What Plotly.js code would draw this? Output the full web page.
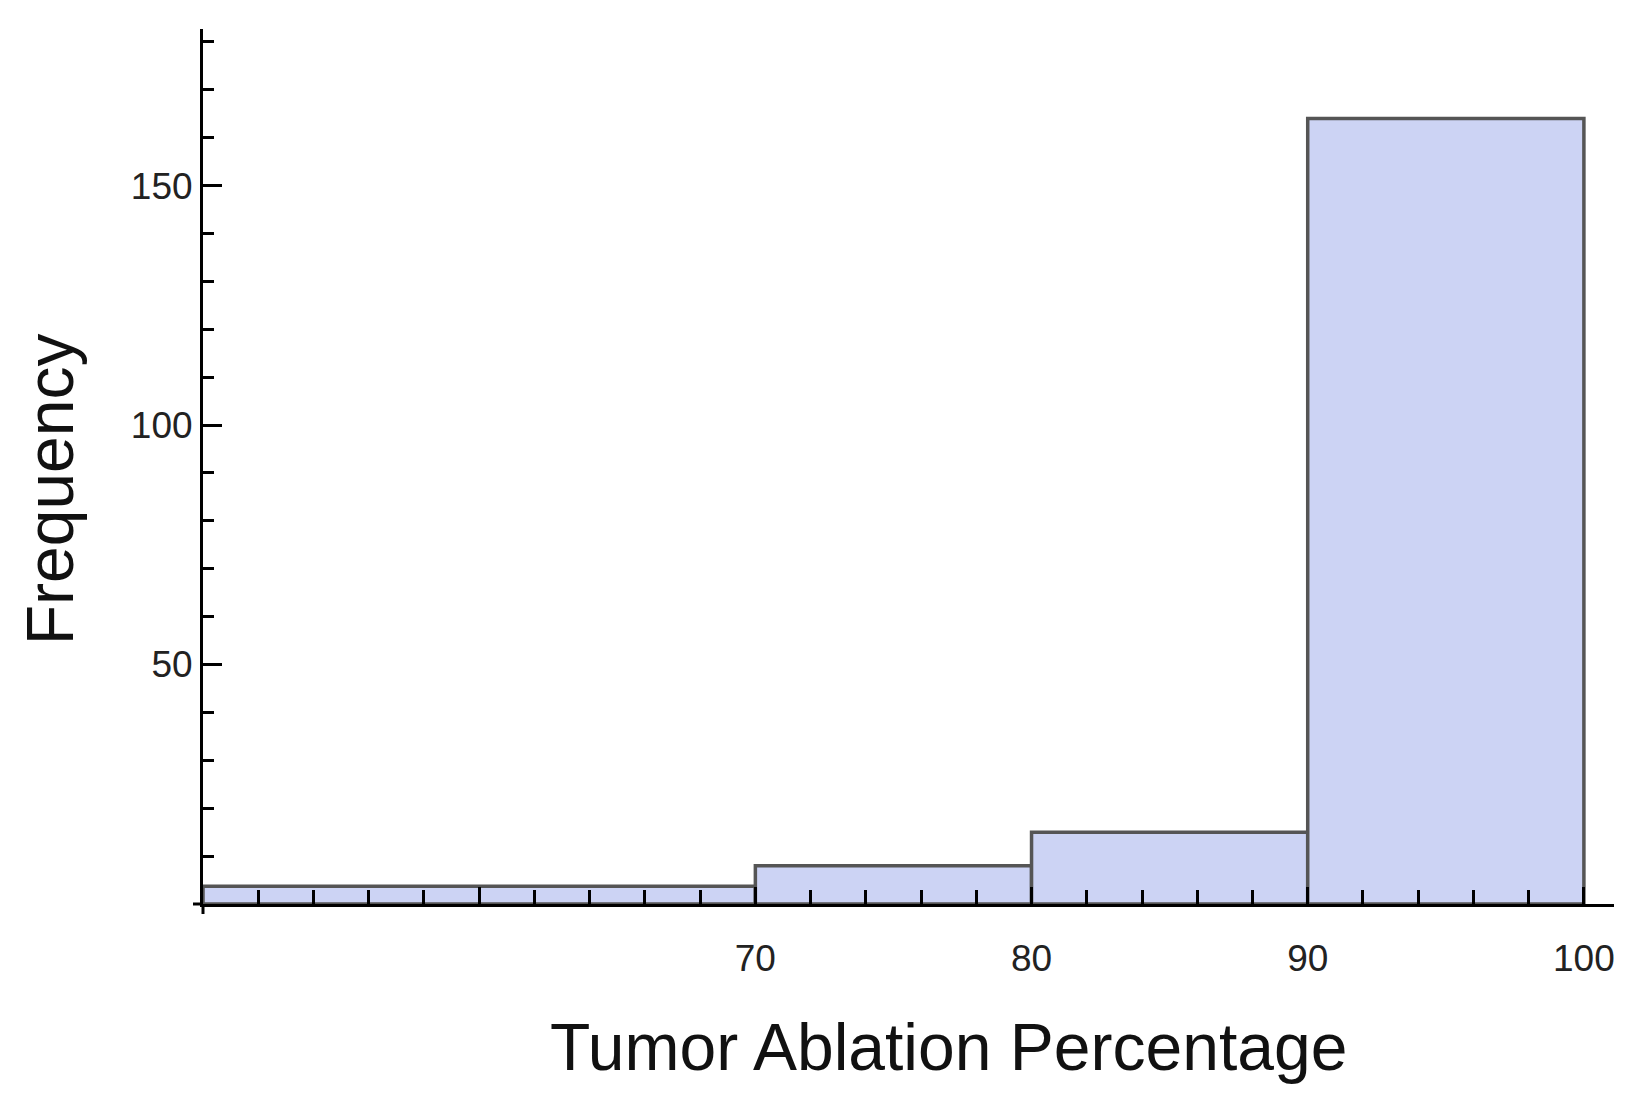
<!DOCTYPE html>
<html>
<head>
<meta charset="utf-8">
<script src="https://cdn.plot.ly/plotly-3.0.1.min.js"></script>
<style>html,body{margin:0;padding:0;background:#fff;}</style>
</head>
<body>
<div id="chart" style="width:1633px;height:1110px;"></div>
<script>
// Histogram bins (left edge, right edge) and frequencies
const binStarts = [50, 70, 80, 90];
const binEnds   = [70, 80, 90, 100];
const frequencies = [3.7, 8, 15, 164];

// Tick labels
const xTickVals = [50, 60, 70, 80, 90, 100];
const xTickText = ['', '', '70', '80', '90', '100'];
const yTickVals = [50, 100, 150];
const yTickText = ['50', '100', '150'];

const xTitle = 'Tumor Ablation Percentage';
const yTitle = 'Frequency';

const centers = binStarts.map((s, i) => (s + binEnds[i]) / 2);
const widths = binStarts.map((s, i) => binEnds[i] - s);

const font = 'Liberation Sans, Arial, Helvetica, sans-serif';

const trace = {
  type: 'bar',
  x: centers,
  y: frequencies,
  width: widths,
  marker: {color: 'rgb(204,211,244)', line: {color: 'rgb(85,85,85)', width: 3.5}},
  hoverinfo: 'x+y'
};

const layout = {
  width: 1633, height: 1110,
  margin: {l: 203, r: 19, t: 29, b: 206, pad: 0},
  paper_bgcolor: '#fff', plot_bgcolor: '#fff',
  showlegend: false,
  font: {family: font, color: '#222'},
  xaxis: {
    range: [50, 101.09],
    showgrid: false, zeroline: false,
    showline: true, linecolor: '#000', linewidth: 3,
    tickmode: 'array', tickvals: xTickVals, ticktext: xTickText,
    ticks: 'inside', ticklen: 17, tickwidth: 3, tickcolor: '#000',
    tickfont: {size: 37, family: font, color: '#222'},
    ticklabelstandoff: 20,
    minor: {tickmode: 'linear', tick0: 50, dtick: 2, ticks: 'inside', ticklen: 14, tickwidth: 3, tickcolor: '#000', showgrid: false}
  },
  yaxis: {
    range: [0, 182.7],
    showgrid: false, zeroline: false,
    showline: true, linecolor: '#000', linewidth: 3,
    tickmode: 'array', tickvals: yTickVals, ticktext: yTickText,
    ticks: 'inside', ticklen: 19, tickwidth: 3, tickcolor: '#000',
    tickfont: {size: 37, family: font, color: '#222'},
    ticklabelstandoff: 0,
    minor: {tickmode: 'linear', tick0: 0, dtick: 10, ticks: 'inside', ticklen: 11, tickwidth: 3, tickcolor: '#000', showgrid: false}
  },
  shapes: [
    {type: 'line', xref: 'paper', yref: 'paper', x0: -0.0071, x1: 0, y0: 0, y1: 0, line: {color: '#000', width: 3}},
    {type: 'line', xref: 'paper', yref: 'paper', x0: 0, x1: 0, y0: 0, y1: -0.0114, line: {color: '#000', width: 3}}
  ],
  annotations: [
    {text: xTitle, xref: 'paper', yref: 'paper', x: 0.528, y: -0.163, xanchor: 'center', yanchor: 'middle', showarrow: false, font: {size: 66, family: font, color: '#111'}},
    {text: yTitle, xref: 'paper', yref: 'paper', x: -0.1084, y: 0.474, xanchor: 'center', yanchor: 'middle', textangle: -90, showarrow: false, font: {size: 66, family: font, color: '#111'}}
  ]
};

Plotly.newPlot('chart', [trace], layout, {displayModeBar: false, staticPlot: true});
</script>
</body>
</html>
